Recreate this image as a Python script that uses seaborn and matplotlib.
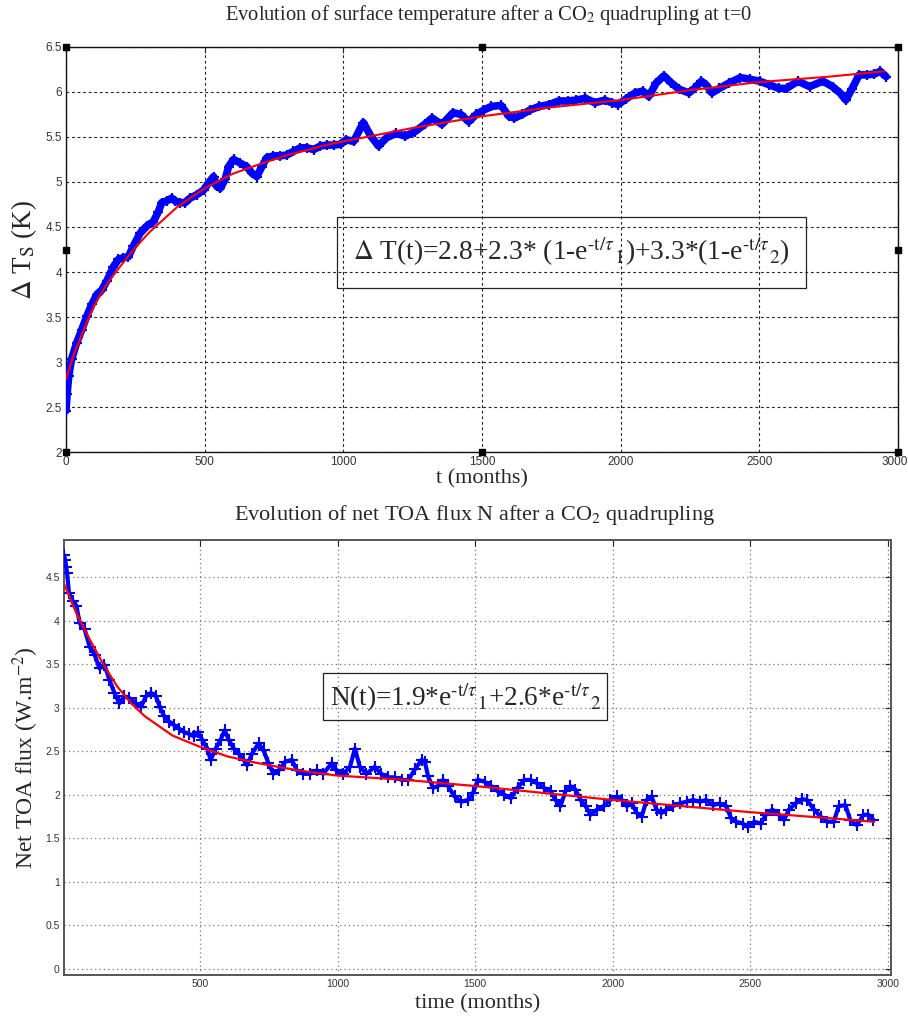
import matplotlib
matplotlib.use("Agg")
import matplotlib.pyplot as plt
import matplotlib.transforms as mtransforms
import seaborn as sns
import pandas as pd
from matplotlib.patches import Rectangle

# ---- Surface temperature response (months, K) ----
temp_t = [0, 4, 10, 20, 38, 57, 75, 93, 111, 129, 147, 171, 189, 207, 225, 243, 267, 291, 315, 333,
          345, 363, 381, 393, 411, 429, 447, 472, 496, 514, 532, 544, 556, 574, 586, 604, 628, 652,
          670, 688, 706, 724, 748, 772, 796, 820, 845, 869, 893, 917, 941, 965, 990, 1010, 1037,
          1072, 1099, 1127, 1155, 1189, 1224, 1258, 1293, 1320, 1355, 1396, 1424, 1452, 1479, 1507,
          1534, 1569, 1597, 1617, 1645, 1673, 1707, 1742, 1776, 1811, 1838, 1873, 1907, 1942, 1969,
          1990, 2018, 2052, 2080, 2101, 2128, 2156, 2183, 2211, 2246, 2266, 2291, 2308, 2329, 2356,
          2391, 2432, 2467, 2501, 2536, 2570, 2598, 2639, 2681, 2729, 2764, 2791, 2812, 2833, 2860,
          2888, 2915, 2936, 2957]
temp_v = [2.46, 2.65, 2.85, 3.03, 3.21, 3.36, 3.51, 3.64, 3.75, 3.80, 3.90, 4.06, 4.14, 4.16, 4.17,
          4.29, 4.43, 4.51, 4.56, 4.67, 4.77, 4.79, 4.82, 4.79, 4.77, 4.77, 4.82, 4.86, 4.91, 4.99,
          5.06, 4.95, 4.93, 5.03, 5.17, 5.25, 5.21, 5.17, 5.10, 5.06, 5.17, 5.27, 5.29, 5.29, 5.30,
          5.34, 5.38, 5.38, 5.36, 5.40, 5.41, 5.41, 5.42, 5.47, 5.45, 5.66, 5.51, 5.40, 5.49, 5.54,
          5.51, 5.56, 5.64, 5.71, 5.64, 5.77, 5.75, 5.67, 5.75, 5.80, 5.84, 5.85, 5.73, 5.71, 5.75,
          5.80, 5.84, 5.86, 5.90, 5.90, 5.91, 5.93, 5.88, 5.91, 5.88, 5.86, 5.92, 5.99, 6.01, 5.95,
          6.10, 6.18, 6.10, 6.03, 5.99, 6.04, 6.12, 6.08, 5.99, 6.04, 6.10, 6.16, 6.14, 6.12, 6.08,
          6.04, 6.04, 6.12, 6.06, 6.12, 6.06, 5.99, 5.91, 6.03, 6.19, 6.19, 6.20, 6.23, 6.17]

# two-timescale fit of the temperature response
temp_fit_t = [0, 25, 50, 75, 100, 150, 200, 250, 300, 400, 500, 600, 700, 800, 950, 1250, 1500,
              1750, 2000, 2250, 2500, 2750, 2950]
temp_fit_v = [2.81, 3.06, 3.25, 3.44, 3.62, 3.88, 4.08, 4.27, 4.44, 4.72, 4.93, 5.09, 5.20, 5.30,
              5.42, 5.60, 5.73, 5.83, 5.91, 6.02, 6.11, 6.17, 6.23]

# ---- Net TOA flux (months, W m-2) ----
flux_t = [6, 10, 14, 17, 24, 38, 51, 63, 81, 99, 117, 135, 153, 171, 189, 207, 225, 243, 267, 286,
          304, 322, 340, 354, 370, 388, 406, 424, 442, 460, 478, 494, 508, 527, 539, 557, 575, 590,
          605, 623, 641, 659, 671, 689, 713, 731, 749, 767, 786, 810, 834, 852, 876, 900, 924, 948,
          978, 996, 1021, 1045, 1063, 1081, 1105, 1135, 1159, 1183, 1207, 1233, 1257, 1281, 1305,
          1317, 1329, 1347, 1365, 1383, 1401, 1425, 1449, 1474, 1492, 1510, 1534, 1558, 1582, 1606,
          1630, 1654, 1678, 1702, 1726, 1750, 1774, 1792, 1810, 1828, 1846, 1864, 1883, 1901, 1919,
          1943, 1967, 1991, 2015, 2033, 2051, 2069, 2087, 2105, 2123, 2141, 2159, 2177, 2195, 2219,
          2243, 2268, 2292, 2316, 2340, 2364, 2388, 2412, 2430, 2448, 2472, 2490, 2514, 2538, 2556,
          2580, 2604, 2622, 2640, 2664, 2688, 2706, 2731, 2755, 2779, 2803, 2821, 2845, 2863, 2887,
          2911, 2929, 2947]
flux_v = [4.75, 4.70, 4.62, 4.55, 4.32, 4.22, 4.17, 3.97, 3.90, 3.70, 3.61, 3.45, 3.49, 3.32, 3.17,
          3.05, 3.13, 3.11, 3.05, 3.01, 3.13, 3.17, 3.13, 3.01, 2.90, 2.84, 2.80, 2.76, 2.72, 2.70,
          2.67, 2.72, 2.63, 2.53, 2.40, 2.53, 2.63, 2.74, 2.63, 2.53, 2.47, 2.40, 2.34, 2.47, 2.59,
          2.51, 2.36, 2.24, 2.28, 2.38, 2.40, 2.28, 2.24, 2.24, 2.28, 2.24, 2.36, 2.28, 2.24, 2.32,
          2.53, 2.32, 2.24, 2.32, 2.24, 2.20, 2.20, 2.17, 2.17, 2.29, 2.40, 2.38, 2.21, 2.08, 2.10,
          2.17, 2.10, 1.98, 1.92, 1.94, 2.02, 2.17, 2.15, 2.10, 2.04, 2.00, 1.96, 2.08, 2.17, 2.17,
          2.13, 2.08, 2.04, 1.94, 1.87, 2.04, 2.10, 2.06, 1.94, 1.87, 1.77, 1.83, 1.87, 1.94, 1.98,
          1.94, 1.87, 1.90, 1.79, 1.75, 1.94, 1.98, 1.83, 1.79, 1.83, 1.87, 1.90, 1.92, 1.94, 1.92,
          1.94, 1.88, 1.90, 1.87, 1.73, 1.69, 1.67, 1.63, 1.69, 1.67, 1.77, 1.83, 1.77, 1.71, 1.83,
          1.90, 1.95, 1.94, 1.83, 1.75, 1.69, 1.69, 1.87, 1.88, 1.71, 1.65, 1.77, 1.77, 1.71]

# two-timescale fit of the flux decay
flux_fit_t = [6, 25, 50, 75, 100, 150, 200, 250, 300, 400, 500, 600, 700, 800, 900, 1000, 1100,
              1250, 1500, 1750, 2000, 2250, 2500, 2750, 2950]
flux_fit_v = [4.42, 4.28, 4.09, 3.93, 3.78, 3.49, 3.24, 3.05, 2.90, 2.68, 2.55, 2.44, 2.37, 2.31,
              2.26, 2.22, 2.20, 2.17, 2.10, 2.02, 1.94, 1.87, 1.80, 1.74, 1.69]

temp_ticks_x = [0, 500, 1000, 1500, 2000, 2500, 3000]
temp_ticks_y = [2, 2.5, 3, 3.5, 4, 4.5, 5, 5.5, 6, 6.5]
flux_ticks_x = [500, 1000, 1500, 2000, 2500, 3000]
flux_ticks_y = [0, 0.5, 1, 1.5, 2, 2.5, 3, 3.5, 4, 4.5]

sns.set_style("white")
plt.rcParams["font.family"] = ["Liberation Serif", "DejaVu Serif"]
plt.rcParams["mathtext.fontset"] = "stix"

BLUE = "#0000ff"
RED = "#ff0000"
SANS = ["Liberation Sans", "DejaVu Sans"]

temp_df = pd.DataFrame({"t": temp_t, "v": temp_v})
temp_fit = pd.DataFrame({"t": temp_fit_t, "v": temp_fit_v})
flux_df = pd.DataFrame({"t": flux_t, "v": flux_v})
flux_fit = pd.DataFrame({"t": flux_fit_t, "v": flux_fit_v})

fig = plt.figure(figsize=(9.08, 10.19), dpi=100)

# ================= upper panel: surface temperature =================
ax1 = fig.add_axes([0.0727, 0.5564, 0.9163, 0.3975])
sns.lineplot(data=temp_df, x="t", y="v", ax=ax1, color=BLUE, lw=5.5, sort=False, zorder=3)
sns.scatterplot(data=temp_df, x="t", y="v", ax=ax1, color=BLUE, marker="+", s=55,
                linewidth=1.6, zorder=4)
sns.lineplot(data=temp_fit, x="t", y="v", ax=ax1, color=RED, lw=1.5, sort=False, zorder=5)

ax1.set_xlim(0, 3000)
ax1.set_ylim(2, 6.5)
ax1.set_xticks(temp_ticks_x)
ax1.set_yticks(temp_ticks_y)
ax1.set_xticklabels([str(v) for v in temp_ticks_x], family=SANS, fontsize=8.5, color="#333333")
ax1.set_yticklabels([f"{v:g}" for v in temp_ticks_y], family=SANS, fontsize=8.5, color="#333333")
ax1.tick_params(direction="in", length=4, width=0.8, top=True, right=True, pad=3)
# keep the last tick label inside the figure
last = ax1.get_xticklabels()[-1]
last.set_transform(last.get_transform() +
                   mtransforms.ScaledTranslation(-3 / 100, 0, fig.dpi_scale_trans))
ax1.grid(True, color="#222222", linestyle=(0, (2.5, 2.5)), linewidth=0.8)
for sp in ax1.spines.values():
    sp.set_color("#111111")
    sp.set_linewidth(1.0)
ax1.set_xlabel("t (months)", fontsize=16)
ax1.xaxis.set_label_coords(0.5, -0.043)
ax1.set_ylabel(r"$\Delta$ T$_{\rm S}$ (K)", fontsize=19.5)
ax1.yaxis.set_label_coords(-0.033, 0.5)

# edit handles on the axes frame
hx = [0, 0.5, 1, 0, 1, 0, 0.5, 1]
hy = [0, 0, 0, 0.5, 0.5, 1, 1, 1]
ax1.plot(hx, hy, ls="none", marker="s", ms=4.5, color="black", transform=ax1.transAxes,
         clip_on=False, zorder=10)

ax1.add_patch(Rectangle((0.3257, 0.405), 0.5633, 0.175, transform=ax1.transAxes,
                        fill=False, edgecolor="#222222", lw=0.9, zorder=6))
ax1.text(0.607, 0.494,
         r"$\Delta$ T(t)=2.8+2.3* (1-e$^{\text{-t/}\tau}{}_{1}$)+3.3*(1-e$^{\text{-t/}\tau}{}_{2}$)",
         transform=ax1.transAxes, ha="center", va="center", fontsize=19.8, zorder=7)

fig.text(0.538, 0.985, "Evolution of surface temperature after a CO$_2$ quadrupling at t=0",
         ha="center", va="center", fontsize=14.8)

# ================= lower panel: net TOA flux =================
ax2 = fig.add_axes([0.0705, 0.0432, 0.9108, 0.4269])
sns.lineplot(data=flux_df, x="t", y="v", ax=ax2, color=BLUE, lw=3, sort=False, zorder=3)
sns.scatterplot(data=flux_df, x="t", y="v", ax=ax2, color=BLUE, marker="+", s=80,
                linewidth=1.5, zorder=4)
sns.lineplot(data=flux_fit, x="t", y="v", ax=ax2, color=RED, lw=1.6, sort=False, zorder=5)

ax2.set_xlim(6, 3011)
ax2.set_ylim(-0.069, 4.925)
ax2.set_xticks(flux_ticks_x)
ax2.set_yticks(flux_ticks_y)
ax2.set_xticklabels([str(v) for v in flux_ticks_x], family=SANS, fontsize=7.5, color="#333333")
ax2.set_yticklabels([f"{v:g}" for v in flux_ticks_y], family=SANS, fontsize=7.5, color="#333333")
ax2.tick_params(direction="in", length=4, width=0.8, top=True, right=True, pad=3)
ax2.grid(True, color="#777777", linestyle=(0, (1, 2.5)), linewidth=0.9)
for sp in ax2.spines.values():
    sp.set_color("#555555")
    sp.set_linewidth(1.4)
ax2.set_xlabel("time (months)", fontsize=16)
ax2.xaxis.set_label_coords(0.5, -0.044)
ax2.set_ylabel(r"Net TOA flux (W.m$^{-2}$)", fontsize=17)
ax2.yaxis.set_label_coords(-0.028, 0.5)

ax2.add_patch(Rectangle((0.313, 0.586), 0.344, 0.108, transform=ax2.transAxes,
                        fill=False, edgecolor="#222222", lw=0.9, zorder=6))
ax2.text(0.485, 0.638, r"N(t)=1.9*e$^{\text{-t/}\tau}{}_{1}$+2.6*e$^{\text{-t/}\tau}{}_{2}$",
         transform=ax2.transAxes, ha="center", va="center", fontsize=19.6, zorder=7)

fig.text(0.523, 0.4946, "Evolution of net TOA flux N after a CO$_2$ quadrupling",
         ha="center", va="center", fontsize=16)

fig.savefig("out.png", dpi=100)
